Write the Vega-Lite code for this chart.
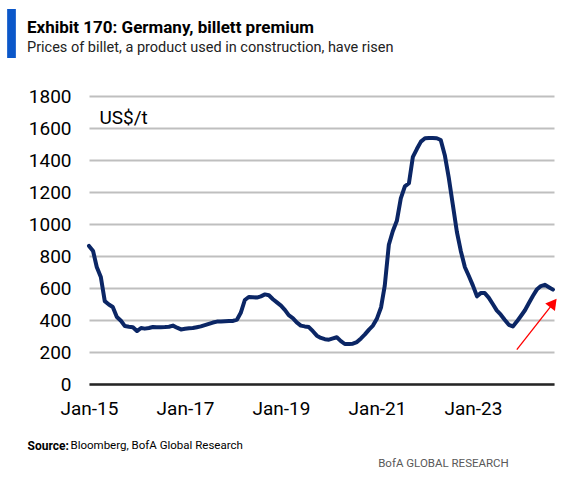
{
  "$schema": "https://vega.github.io/schema/vega-lite/v6.json",
  "width": 465,
  "height": 288,
  "autosize": {"type": "none"},
  "padding": {"left": 89, "top": 96, "right": 23, "bottom": 97},
  "background": "white",
  "config": {
    "font": "Roboto, Lato, sans-serif",
    "view": {"stroke": null}
  },
  "title": {
    "text": "Exhibit 170: Germany, billett premium",
    "subtitle": "Prices of billet, a product used in construction, have risen",
    "anchor": "start",
    "frame": "group",
    "dx": -62,
    "dy": 50,
    "fontSize": 17,
    "fontWeight": "bold",
    "color": "#000000",
    "subtitleFontSize": 14.5,
    "subtitleColor": "#222222",
    "subtitlePadding": 4
  },
  "datasets": {
    "billet": [
      {"date": "2015-01-01", "price": 863, "series": "Germany billet"},
      {"date": "2015-02-01", "price": 831, "series": "Germany billet"},
      {"date": "2015-03-01", "price": 731, "series": "Germany billet"},
      {"date": "2015-04-01", "price": 669, "series": "Germany billet"},
      {"date": "2015-05-01", "price": 518, "series": "Germany billet"},
      {"date": "2015-06-01", "price": 497, "series": "Germany billet"},
      {"date": "2015-07-01", "price": 481, "series": "Germany billet"},
      {"date": "2015-08-01", "price": 419, "series": "Germany billet"},
      {"date": "2015-09-01", "price": 395, "series": "Germany billet"},
      {"date": "2015-10-01", "price": 362, "series": "Germany billet"},
      {"date": "2015-11-01", "price": 358, "series": "Germany billet"},
      {"date": "2015-12-01", "price": 355, "series": "Germany billet"},
      {"date": "2016-01-01", "price": 331, "series": "Germany billet"},
      {"date": "2016-02-01", "price": 350, "series": "Germany billet"},
      {"date": "2016-03-01", "price": 346, "series": "Germany billet"},
      {"date": "2016-04-01", "price": 350, "series": "Germany billet"},
      {"date": "2016-05-01", "price": 356, "series": "Germany billet"},
      {"date": "2016-06-01", "price": 355, "series": "Germany billet"},
      {"date": "2016-07-01", "price": 355, "series": "Germany billet"},
      {"date": "2016-08-01", "price": 356, "series": "Germany billet"},
      {"date": "2016-09-01", "price": 358, "series": "Germany billet"},
      {"date": "2016-10-01", "price": 365, "series": "Germany billet"},
      {"date": "2016-11-01", "price": 352, "series": "Germany billet"},
      {"date": "2016-12-01", "price": 341, "series": "Germany billet"},
      {"date": "2017-01-01", "price": 345, "series": "Germany billet"},
      {"date": "2017-02-01", "price": 348, "series": "Germany billet"},
      {"date": "2017-03-01", "price": 350, "series": "Germany billet"},
      {"date": "2017-04-01", "price": 355, "series": "Germany billet"},
      {"date": "2017-05-01", "price": 360, "series": "Germany billet"},
      {"date": "2017-06-01", "price": 368, "series": "Germany billet"},
      {"date": "2017-07-01", "price": 376, "series": "Germany billet"},
      {"date": "2017-08-01", "price": 384, "series": "Germany billet"},
      {"date": "2017-09-01", "price": 390, "series": "Germany billet"},
      {"date": "2017-10-01", "price": 391, "series": "Germany billet"},
      {"date": "2017-11-01", "price": 392, "series": "Germany billet"},
      {"date": "2017-12-01", "price": 393, "series": "Germany billet"},
      {"date": "2018-01-01", "price": 394, "series": "Germany billet"},
      {"date": "2018-02-01", "price": 403, "series": "Germany billet"},
      {"date": "2018-03-01", "price": 445, "series": "Germany billet"},
      {"date": "2018-04-01", "price": 525, "series": "Germany billet"},
      {"date": "2018-05-01", "price": 544, "series": "Germany billet"},
      {"date": "2018-06-01", "price": 542, "series": "Germany billet"},
      {"date": "2018-07-01", "price": 540, "series": "Germany billet"},
      {"date": "2018-08-01", "price": 548, "series": "Germany billet"},
      {"date": "2018-09-01", "price": 560, "series": "Germany billet"},
      {"date": "2018-10-01", "price": 555, "series": "Germany billet"},
      {"date": "2018-11-01", "price": 530, "series": "Germany billet"},
      {"date": "2018-12-01", "price": 510, "series": "Germany billet"},
      {"date": "2019-01-01", "price": 490, "series": "Germany billet"},
      {"date": "2019-02-01", "price": 462, "series": "Germany billet"},
      {"date": "2019-03-01", "price": 430, "series": "Germany billet"},
      {"date": "2019-04-01", "price": 412, "series": "Germany billet"},
      {"date": "2019-05-01", "price": 385, "series": "Germany billet"},
      {"date": "2019-06-01", "price": 365, "series": "Germany billet"},
      {"date": "2019-07-01", "price": 360, "series": "Germany billet"},
      {"date": "2019-08-01", "price": 356, "series": "Germany billet"},
      {"date": "2019-09-01", "price": 330, "series": "Germany billet"},
      {"date": "2019-10-01", "price": 302, "series": "Germany billet"},
      {"date": "2019-11-01", "price": 288, "series": "Germany billet"},
      {"date": "2019-12-01", "price": 280, "series": "Germany billet"},
      {"date": "2020-01-01", "price": 277, "series": "Germany billet"},
      {"date": "2020-02-01", "price": 285, "series": "Germany billet"},
      {"date": "2020-03-01", "price": 292, "series": "Germany billet"},
      {"date": "2020-04-01", "price": 268, "series": "Germany billet"},
      {"date": "2020-05-01", "price": 250, "series": "Germany billet"},
      {"date": "2020-06-01", "price": 250, "series": "Germany billet"},
      {"date": "2020-07-01", "price": 252, "series": "Germany billet"},
      {"date": "2020-08-01", "price": 262, "series": "Germany billet"},
      {"date": "2020-09-01", "price": 285, "series": "Germany billet"},
      {"date": "2020-10-01", "price": 310, "series": "Germany billet"},
      {"date": "2020-11-01", "price": 340, "series": "Germany billet"},
      {"date": "2020-12-01", "price": 365, "series": "Germany billet"},
      {"date": "2021-01-01", "price": 410, "series": "Germany billet"},
      {"date": "2021-02-01", "price": 480, "series": "Germany billet"},
      {"date": "2021-03-01", "price": 615, "series": "Germany billet"},
      {"date": "2021-04-01", "price": 870, "series": "Germany billet"},
      {"date": "2021-05-01", "price": 955, "series": "Germany billet"},
      {"date": "2021-06-01", "price": 1020, "series": "Germany billet"},
      {"date": "2021-07-01", "price": 1160, "series": "Germany billet"},
      {"date": "2021-08-01", "price": 1235, "series": "Germany billet"},
      {"date": "2021-09-01", "price": 1255, "series": "Germany billet"},
      {"date": "2021-10-01", "price": 1420, "series": "Germany billet"},
      {"date": "2021-11-01", "price": 1470, "series": "Germany billet"},
      {"date": "2021-12-01", "price": 1515, "series": "Germany billet"},
      {"date": "2022-01-01", "price": 1536, "series": "Germany billet"},
      {"date": "2022-02-01", "price": 1537, "series": "Germany billet"},
      {"date": "2022-03-01", "price": 1537, "series": "Germany billet"},
      {"date": "2022-04-01", "price": 1536, "series": "Germany billet"},
      {"date": "2022-05-01", "price": 1525, "series": "Germany billet"},
      {"date": "2022-06-01", "price": 1430, "series": "Germany billet"},
      {"date": "2022-07-01", "price": 1290, "series": "Germany billet"},
      {"date": "2022-08-01", "price": 1120, "series": "Germany billet"},
      {"date": "2022-09-01", "price": 950, "series": "Germany billet"},
      {"date": "2022-10-01", "price": 830, "series": "Germany billet"},
      {"date": "2022-11-01", "price": 730, "series": "Germany billet"},
      {"date": "2022-12-01", "price": 675, "series": "Germany billet"},
      {"date": "2023-01-01", "price": 615, "series": "Germany billet"},
      {"date": "2023-02-01", "price": 548, "series": "Germany billet"},
      {"date": "2023-03-01", "price": 568, "series": "Germany billet"},
      {"date": "2023-04-01", "price": 568, "series": "Germany billet"},
      {"date": "2023-05-01", "price": 540, "series": "Germany billet"},
      {"date": "2023-06-01", "price": 500, "series": "Germany billet"},
      {"date": "2023-07-01", "price": 460, "series": "Germany billet"},
      {"date": "2023-08-01", "price": 433, "series": "Germany billet"},
      {"date": "2023-09-01", "price": 400, "series": "Germany billet"},
      {"date": "2023-10-01", "price": 370, "series": "Germany billet"},
      {"date": "2023-11-01", "price": 360, "series": "Germany billet"},
      {"date": "2023-12-01", "price": 390, "series": "Germany billet"},
      {"date": "2024-01-01", "price": 425, "series": "Germany billet"},
      {"date": "2024-02-01", "price": 461, "series": "Germany billet"},
      {"date": "2024-03-01", "price": 505, "series": "Germany billet"},
      {"date": "2024-04-01", "price": 550, "series": "Germany billet"},
      {"date": "2024-05-01", "price": 590, "series": "Germany billet"},
      {"date": "2024-06-01", "price": 612, "series": "Germany billet"},
      {"date": "2024-07-01", "price": 620, "series": "Germany billet"},
      {"date": "2024-08-01", "price": 605, "series": "Germany billet"},
      {"date": "2024-09-01", "price": 590, "series": "Germany billet"}
    ],
    "arrow": [
      {"tail_date": "2023-12-01", "tail_price": 215, "head_date": "2024-09-04", "head_price": 506}
    ]
  },
  "layer": [
    {
      "data": {"name": "billet"},
      "mark": {"type": "line", "strokeWidth": 4, "strokeCap": "round", "strokeJoin": "round", "clip": false},
      "encoding": {
        "x": {
          "field": "date",
          "type": "temporal",
          "scale": {"type": "utc", "domain": [{"year": 2015, "month": 1, "date": 1, "utc": true}, {"year": 2024, "month": 9, "date": 9, "utc": true}]},
          "axis": {
            "orient": "bottom",
            "values": [
              {"year": 2015, "month": 1, "date": 1, "utc": true},
              {"year": 2017, "month": 1, "date": 1, "utc": true},
              {"year": 2019, "month": 1, "date": 1, "utc": true},
              {"year": 2021, "month": 1, "date": 1, "utc": true},
              {"year": 2023, "month": 1, "date": 1, "utc": true}
            ],
            "format": "%b-%y",
            "labelFontSize": 19,
            "labelColor": "#000000",
            "labelPadding": 15,
            "labelFlush": false,
            "labelOverlap": false,
            "ticks": false,
            "domain": true,
            "domainColor": "#262626",
            "domainWidth": 2.5,
            "grid": false,
            "zindex": 1,
            "title": "Source:",
            "titleFontWeight": "bold",
            "titleFontSize": 12,
            "titleColor": "#000000",
            "titleX": -62,
            "titleY": 61,
            "titleAlign": "left",
            "titleBaseline": "middle"
          }
        },
        "y": {
          "field": "price",
          "type": "quantitative",
          "scale": {"domain": [0, 1800]},
          "axis": {
            "orient": "left",
            "values": [0, 200, 400, 600, 800, 1000, 1200, 1400, 1600, 1800],
            "format": "d",
            "labelFontSize": 19,
            "labelColor": "#000000",
            "labelPadding": 18,
            "ticks": false,
            "domain": false,
            "grid": true,
            "gridColor": "#bfbfbf",
            "gridWidth": 2,
            "title": "US$/t",
            "titleAngle": 0,
            "titleAlign": "left",
            "titleBaseline": "middle",
            "titleX": 10,
            "titleY": 21,
            "titleFontSize": 19,
            "titleFontWeight": "normal",
            "titleColor": "#000000"
          }
        },
        "color": {
          "field": "series",
          "type": "nominal",
          "scale": {"range": ["#0b2665"]},
          "legend": {
            "orient": "none",
            "legendX": -102,
            "legendY": -87,
            "title": null,
            "padding": 0,
            "labelExpr": "''",
            "labelFontSize": 1,
            "symbolType": "M-0.178,-1H0.178V1H-0.178Z",
            "symbolSize": 2401,
            "symbolStrokeWidth": 0,
            "encode": {
              "symbols": {
                "update": {
                  "fill": {"value": "#0b57c9"},
                  "stroke": {"value": "transparent"},
                  "opacity": {"value": 1}
                }
              }
            }
          }
        }
      }
    },
    {
      "data": {"name": "arrow"},
      "layer": [
        {
          "mark": {"type": "rule", "color": "#ff0000", "strokeWidth": 1.3, "clip": false},
          "encoding": {
            "x": {
              "field": "tail_date",
              "type": "temporal",
              "scale": {"type": "utc", "domain": [{"year": 2015, "month": 1, "date": 1, "utc": true}, {"year": 2024, "month": 9, "date": 9, "utc": true}]},
              "axis": {
                "orient": "top",
                "labels": false,
                "ticks": false,
                "domain": false,
                "grid": false,
                "title": "Bloomberg, BofA Global Research",
                "titleFontSize": 11.5,
                "titleFontWeight": "normal",
                "titleColor": "#000000",
                "titleX": -19,
                "titleY": 349,
                "titleAlign": "left",
                "titleBaseline": "middle"
              }
            },
            "x2": {"field": "head_date"},
            "y": {
              "field": "tail_price",
              "type": "quantitative",
              "scale": {"domain": [0, 1800]},
              "axis": {
                "orient": "right",
                "labels": false,
                "ticks": false,
                "domain": false,
                "grid": false,
                "title": "BofA GLOBAL RESEARCH",
                "titleAngle": 0,
                "titleFontSize": 11.5,
                "titleFontWeight": "normal",
                "titleColor": "#595959",
                "titleX": -45.7,
                "titleY": 367.3,
                "titleAlign": "right",
                "titleBaseline": "middle"
              }
            },
            "y2": {"field": "head_price"}
          }
        },
        {
          "mark": {"type": "point", "shape": "triangle-up", "filled": true, "color": "#ff0000", "opacity": 1, "size": 150, "angle": 38, "clip": false},
          "encoding": {
            "x": {
              "field": "head_date",
              "type": "temporal",
              "scale": {"type": "utc", "domain": [{"year": 2015, "month": 1, "date": 1, "utc": true}, {"year": 2024, "month": 9, "date": 9, "utc": true}]},
              "axis": {
                "orient": "top",
                "labels": false,
                "ticks": false,
                "domain": false,
                "grid": false,
                "title": "Bloomberg, BofA Global Research",
                "titleFontSize": 11.5,
                "titleFontWeight": "normal",
                "titleColor": "#000000",
                "titleX": -19,
                "titleY": 349,
                "titleAlign": "left",
                "titleBaseline": "middle"
              }
            },
            "y": {
              "field": "head_price",
              "type": "quantitative",
              "scale": {"domain": [0, 1800]},
              "axis": {
                "orient": "right",
                "labels": false,
                "ticks": false,
                "domain": false,
                "grid": false,
                "title": "BofA GLOBAL RESEARCH",
                "titleAngle": 0,
                "titleFontSize": 11.5,
                "titleFontWeight": "normal",
                "titleColor": "#595959",
                "titleX": -45.7,
                "titleY": 367.3,
                "titleAlign": "right",
                "titleBaseline": "middle"
              }
            }
          }
        }
      ]
    }
  ],
  "resolve": {"axis": {"x": "independent", "y": "independent"}}
}
